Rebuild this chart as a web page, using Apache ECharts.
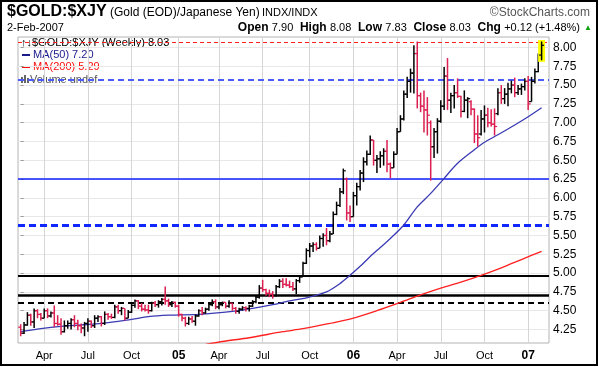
<!DOCTYPE html>
<html><head><meta charset="utf-8">
<script src="https://cdn.jsdelivr.net/npm/echarts@6/dist/echarts.min.js"></script>
<style>html,body{margin:0;padding:0;background:#fff}#c{width:599px;height:367px}</style>
</head><body><div id="c"></div>
<script>
// Weekly OHLC, first bar week ending 13-Feb-2004, last 2-Feb-2007
const startDate = Date.UTC(2004, 1, 13);
const opens = [4.28,4.20,4.31,4.44,4.35,4.50,4.45,4.40,4.50,4.43,4.47,4.33,4.32,4.22,4.30,4.33,4.38,4.33,4.30,4.27,
4.33,4.36,4.30,4.40,4.42,4.33,4.45,4.42,4.41,4.55,4.50,4.53,4.40,4.48,4.57,4.63,4.56,4.52,4.51,4.50,
4.60,4.58,4.62,4.65,4.63,4.58,4.61,4.56,4.45,4.40,4.33,4.39,4.36,4.43,4.50,4.47,4.52,4.58,4.62,4.55,
4.58,4.61,4.56,4.60,4.53,4.49,4.52,4.54,4.53,4.56,4.62,4.68,4.80,4.78,4.73,4.72,4.70,4.82,4.89,4.85,
4.84,4.82,4.79,4.90,4.95,5.13,5.30,5.36,5.38,5.33,5.46,5.50,5.43,5.52,5.78,5.90,6.08,6.25,5.80,5.75,
6.03,6.15,6.33,6.48,6.58,6.77,6.50,6.52,6.56,6.62,6.45,6.40,6.58,6.88,7.05,7.38,7.55,7.66,7.92,7.36,
7.22,7.17,7.00,6.68,6.88,7.02,7.22,7.62,7.30,7.36,7.40,7.35,7.15,7.30,7.28,7.18,6.85,6.85,7.05,7.10,
7.00,6.98,7.12,7.40,7.32,7.38,7.45,7.50,7.40,7.45,7.48,7.55,7.28,7.55,7.68,7.90];
const highs = [4.32,4.35,4.48,4.46,4.53,4.52,4.47,4.53,4.53,4.49,4.57,4.44,4.40,4.37,4.37,4.40,4.44,4.38,4.33,4.35,
4.40,4.37,4.44,4.44,4.43,4.49,4.47,4.46,4.58,4.58,4.55,4.53,4.51,4.60,4.65,4.64,4.60,4.58,4.58,4.62,
4.63,4.64,4.67,4.82,4.66,4.63,4.62,4.58,4.46,4.42,4.42,4.43,4.45,4.52,4.55,4.54,4.60,4.65,4.65,4.61,
4.62,4.61,4.64,4.60,4.55,4.54,4.56,4.56,4.58,4.64,4.70,4.84,4.91,4.79,4.78,4.76,4.84,4.92,4.93,4.93,
4.90,4.88,4.92,4.97,5.15,5.33,5.40,5.41,5.41,5.50,5.53,5.60,5.56,5.82,5.95,6.13,6.39,6.27,5.90,6.08,
6.20,6.37,6.54,6.63,6.83,6.77,6.57,6.62,6.66,6.77,6.47,6.62,6.93,7.10,7.43,7.61,7.72,8.03,8.08,7.40,
7.43,7.34,7.03,6.93,7.06,7.30,7.74,7.86,7.40,7.50,7.59,7.36,7.43,7.34,7.30,7.19,7.10,7.17,7.23,7.20,
7.18,7.19,7.46,7.50,7.46,7.53,7.56,7.60,7.50,7.52,7.59,7.62,7.61,7.72,7.92,8.08];
const lows = [4.16,4.19,4.30,4.30,4.27,4.40,4.37,4.40,4.40,4.41,4.28,4.30,4.18,4.21,4.26,4.25,4.28,4.24,4.20,4.16,
4.22,4.27,4.27,4.35,4.29,4.31,4.38,4.39,4.40,4.46,4.44,4.37,4.40,4.47,4.54,4.52,4.49,4.49,4.46,4.49,
4.55,4.54,4.57,4.58,4.55,4.55,4.54,4.42,4.36,4.29,4.31,4.34,4.30,4.42,4.44,4.46,4.50,4.56,4.52,4.52,
4.56,4.53,4.54,4.50,4.46,4.46,4.50,4.49,4.49,4.55,4.60,4.66,4.75,4.70,4.68,4.66,4.69,4.80,4.80,4.82,
4.80,4.76,4.72,4.87,4.95,5.12,5.21,5.28,5.30,5.33,5.35,5.37,5.41,5.52,5.77,5.88,6.05,5.70,5.68,5.75,
5.90,6.10,6.21,6.43,6.57,6.43,6.33,6.40,6.43,6.34,6.26,6.40,6.58,6.88,7.03,7.33,7.40,7.39,7.19,7.14,
6.87,6.83,6.23,6.53,6.59,7.00,7.17,7.17,7.13,7.19,7.33,7.07,7.14,7.06,7.10,6.73,6.68,6.83,6.87,6.94,
6.95,6.83,7.10,7.25,7.25,7.22,7.39,7.34,7.37,7.37,7.43,7.17,7.28,7.52,7.67,7.83];
const closes = [4.20,4.31,4.44,4.35,4.50,4.45,4.40,4.50,4.43,4.47,4.33,4.32,4.22,4.30,4.33,4.38,4.33,4.30,4.27,4.33,
4.36,4.30,4.40,4.42,4.33,4.45,4.42,4.41,4.55,4.50,4.53,4.40,4.48,4.57,4.63,4.56,4.52,4.51,4.50,4.60,
4.58,4.62,4.65,4.63,4.58,4.61,4.56,4.45,4.40,4.33,4.39,4.36,4.43,4.50,4.47,4.52,4.58,4.62,4.55,4.58,
4.61,4.56,4.60,4.53,4.49,4.52,4.54,4.53,4.56,4.62,4.68,4.80,4.78,4.73,4.72,4.70,4.82,4.89,4.85,4.84,
4.82,4.79,4.90,4.95,5.13,5.30,5.36,5.38,5.33,5.46,5.50,5.43,5.52,5.78,5.90,6.08,6.36,5.80,5.75,6.03,
6.15,6.33,6.48,6.58,6.77,6.50,6.52,6.56,6.62,6.45,6.40,6.58,6.88,7.05,7.38,7.55,7.66,7.92,7.36,7.22,
7.17,7.10,6.68,6.88,7.02,7.22,7.62,7.30,7.36,7.40,7.35,7.15,7.30,7.32,7.18,6.85,6.80,7.05,7.10,7.00,
6.98,6.95,7.40,7.32,7.38,7.45,7.50,7.40,7.45,7.48,7.55,7.25,7.55,7.68,7.91,8.03];
// Moving averages: [bar index, value]
const ma50 = [[0,4.22],[6,4.26],[12,4.29],[18,4.31],[24,4.33],[31,4.37],[38,4.42],[44,4.44],[53,4.45],[63,4.49],
[69,4.53],[75,4.58],[80,4.63],[85,4.67],[91,4.75],[95,4.86],[98,4.97],[101,5.09],[104,5.22],[107,5.34],[110,5.46],
[114,5.64],[118,5.88],[122,6.06],[126,6.26],[130,6.46],[135,6.64],[138,6.74],[142,6.84],[147,6.97],[151,7.08],[155,7.20]];
const ma200 = [[55,4.05],[60,4.09],[68,4.14],[78,4.22],[84,4.26],[92,4.33],[99,4.40],[106,4.50],[113,4.61],
[119,4.71],[125,4.80],[131,4.88],[137,4.97],[143,5.07],[149,5.18],[155,5.29]];
// Horizontal annotation lines
const refLevels = [8.07, 7.57, 6.26, 5.63, 4.96, 4.71, 4.61];
const yTicks = [4.25,4.50,4.75,5.00,5.25,5.50,5.75,6.00,6.25,6.50,6.75,7.00,7.25,7.50,7.75,8.00];
const monthNames = ['Jan','Feb','Mar','Apr','May','Jun','Jul','Aug','Sep','Oct','Nov','Dec'];

const dates = closes.map((_, i) => new Date(startDate + i * 7 * 86400000));
const xTickIdx = [];
dates.forEach((d, i) => {
  const m = d.getUTCMonth();
  if (i > 0 && m !== dates[i-1].getUTCMonth() && m % 3 === 0) xTickIdx.push(i);
});
const last = closes.length - 1;
const ohlc = closes.map((c, i) => [i, opens[i], highs[i], lows[i], c, (i === 0 ? c >= opens[i] : c >= closes[i-1]) ? 1 : 0]);

const FONT = 'Liberation Sans, Arial, sans-serif';
const refStyles = [
  {color:'#ff2020', width:1, type:[4,3]},
  {color:'#4a5cff', width:2, type:[6,4]},
  {color:'#1020ff', width:1.5, type:'solid'},
  {color:'#1028ff', width:3, type:[7,4]},
  {color:'#000', width:2, type:'solid'},
  {color:'#000', width:2.5, type:'solid'},
  {color:'#000', width:2, type:[6,4]}
];

const chart = echarts.init(document.getElementById('c'), null, {renderer:'canvas'});
chart.setOption({
  animation: false,
  backgroundColor: '#fff',
  textStyle: {fontFamily: FONT},
  grid: {left: 18, right: 50, top: 37, bottom: 24, show: true, borderColor: '#b4b4b4', borderWidth: 1},
  xAxis: {
    type: 'value', min: -0.8, max: 157.2,
    axisLine: {show: false},
    axisTick: {show: false, customValues: xTickIdx},
    axisLabel: {
      customValues: xTickIdx, fontSize: 11, color: '#000', margin: 7, fontFamily: FONT,
      formatter: v => {
        const d = dates[Math.round(v)];
        const m = d.getUTCMonth();
        return m === 0 ? '{y|' + String(d.getUTCFullYear()).slice(2) + '}' : monthNames[m];
      },
      rich: {y: {fontWeight: 'bold', fontSize: 12, fontFamily: FONT, color: '#000'}}
    },
    splitLine: {show: true, lineStyle: {color: '#d6d6d6', width: 1}}
  },
  yAxis: {
    type: 'value', position: 'right', min: 4.07, max: 8.14,
    axisLine: {show: false},
    axisTick: {show: true, length: 3, customValues: yTicks, lineStyle: {color: '#999'}},
    axisLabel: {customValues: yTicks, formatter: v => v.toFixed(2), fontSize: 12, color: '#000', margin: 4, fontFamily: FONT},
    splitLine: {show: true, lineStyle: {color: '#e8e8e8', width: 1}}
  },
  graphic: [
    {type:'rect', shape:{x:1, y:1, width:596, height:364}, style:{fill:'none', stroke:'#000', lineWidth:2}},
    {type:'text', x:7, y:12, style:{text:'$GOLD:$XJY', font:'bold 16px ' + FONT, fill:'#000', verticalAlign:'middle'}},
    {type:'text', x:110, y:13, style:{text:'(Gold (EOD)/Japanese Yen)', font:'12px ' + FONT, fill:'#000', verticalAlign:'middle'}},
    {type:'text', x:262, y:13, style:{text:'INDX/INDX', font:'11px ' + FONT, fill:'#000', verticalAlign:'middle'}},
    {type:'text', x:590, y:13, style:{text:'©StockCharts.com', font:'12px ' + FONT, fill:'#555', align:'right', verticalAlign:'middle'}},
    {type:'text', x:7, y:28, style:{text:'2-Feb-2007', font:'11px ' + FONT, fill:'#000', verticalAlign:'middle'}},
    {type:'text', x:580, y:28, style:{
      text:'{b|Open} {v|7.90}  {b|High} {v|8.08}  {b|Low} {v|7.83}  {b|Close} {v|8.03}  {b|Chg} {v|+0.12 (+1.48%)}',
      align:'right', verticalAlign:'middle',
      rich:{b:{font:'bold 12px ' + FONT, fill:'#000'}, v:{font:'11px ' + FONT, fill:'#000'}}
    }},
    {type:'text', x:588, y:28, style:{text:'▲', font:'8px ' + FONT, fill:'#10a010', align:'center', verticalAlign:'middle'}},
    {type:'text', x:21, y:43, style:{text:'↑↓$GOLD:$XJY (Weekly) 8.03', font:'11px ' + FONT, fill:'#000', verticalAlign:'middle'}},
    {type:'rect', shape:{x:22, y:54, width:8, height:2}, style:{fill:'#1a1a8c'}},
    {type:'text', x:33, y:55, style:{text:'MA(50) 7.20', font:'11px ' + FONT, fill:'#1a1a8c', verticalAlign:'middle'}},
    {type:'rect', shape:{x:22, y:66, width:8, height:2}, style:{fill:'#ff1010'}},
    {type:'text', x:33, y:67, style:{text:'MA(200) 5.29', font:'11px ' + FONT, fill:'#ff1010', verticalAlign:'middle'}},
    {type:'rect', shape:{x:21, y:77, width:2, height:6}, style:{fill:'#666'}},
    {type:'rect', shape:{x:24, y:75, width:2, height:8}, style:{fill:'#666'}},
    {type:'rect', shape:{x:27, y:78, width:2, height:5}, style:{fill:'#666'}},
    {type:'text', x:30, y:80, style:{text:'Volume undef', font:'11px ' + FONT, fill:'#555', verticalAlign:'middle'}}
  ],
  series: [
    {
      type: 'line', name: 'MA(200)', data: ma200, showSymbol: false, smooth: 0.3, z: 2,
      lineStyle: {color: '#ff2020', width: 1.3}, clip: true,
      markLine: {
        silent: true, symbol: ['none','none'], label: {show: false}, z: 1,
        data: refLevels.map((v, k) => ({yAxis: v, lineStyle: refStyles[k]}))
      }
    },
    {
      type: 'line', name: 'MA(50)', data: ma50, showSymbol: false, smooth: 0.3, z: 2,
      lineStyle: {color: '#3a3ab4', width: 1.3}, clip: true
    },
    {
      type: 'custom', name: '$GOLD:$XJY', data: ohlc, z: 3, clip: true,
      encode: {x: 0, y: [1,2,3,4]},
      renderItem: function (params, api) {
        const i = api.value(0);
        const pH = api.coord([i, api.value(2)]);
        const pL = api.coord([i, api.value(3)]);
        const pO = api.coord([i, api.value(1)]);
        const pC = api.coord([i, api.value(4)]);
        const x = pH[0];
        const col = api.value(5) ? '#000' : '#dc1e50';
        const kids = [];
        if (i === last) {
          kids.push({type:'rect', shape:{x:x-3.5, y:pH[1]-1.5, width:7, height:pL[1]-pH[1]+3}, style:{fill:'#ffff00'}});
        }
        kids.push({type:'line', shape:{x1:x, y1:pH[1], x2:x, y2:pL[1]}, style:{stroke:col, lineWidth:1.5}});
        kids.push({type:'line', shape:{x1:x-2.5, y1:pO[1], x2:x, y2:pO[1]}, style:{stroke:col, lineWidth:1.2}});
        kids.push({type:'line', shape:{x1:x, y1:pC[1], x2:x+2.5, y2:pC[1]}, style:{stroke:col, lineWidth:1.2}});
        return {type:'group', children: kids};
      }
    }
  ]
});
</script>
</body></html>
